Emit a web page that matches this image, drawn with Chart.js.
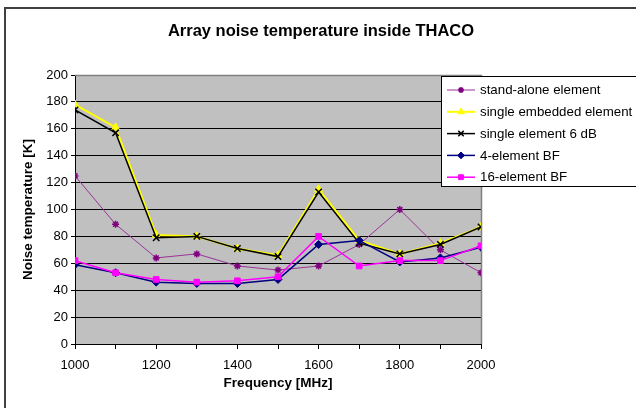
<!DOCTYPE html>
<html>
<head>
<meta charset="utf-8">
<script src="https://cdn.jsdelivr.net/npm/chart.js@4/dist/chart.umd.min.js"></script>
<style>
  html, body { margin: 0; padding: 0; background: #fff; }
  #wrap { width: 636px; height: 408px; position: relative; }
</style>
</head>
<body>
<div id="wrap"><canvas id="c"></canvas></div>
<script>
const chartTitle = 'Array noise temperature inside THACO';
const xAxisTitle = 'Frequency [MHz]';
const yAxisTitle = 'Noise temperature [K]';

const frequencies = [1000, 1100, 1200, 1300, 1400, 1500, 1600, 1700, 1800, 1900, 2000];
const seriesNames = ['stand-alone element', 'single embedded element', 'single element 6 dB', '4-element BF', '16-element BF'];
const standAlone     = [125, 89, 64, 67, 58, 55, 58, 74, 100, 70, 53];
const singleEmbedded = [178, 161, 81, 80, 71, 66, 115, 77, 67, 75, 87];
const single6dB      = [174, 157, 79, 80, 71, 65, 113, 75, 67, 74, 87];
const fourBF         = [59, 53, 46, 45, 45, 48, 74, 77, 61, 64, 72];
const sixteenBF      = [62, 53, 48, 46, 47, 50, 80, 58, 62, 62, 73];

const yTicks = { min: 0, max: 200, step: 20 };
const xTicks = { min: 1000, max: 2000, step: 100, labelEvery: 200 };

const FONT = 'Arial, "Liberation Sans", sans-serif';

function pts(vals) { return vals.map((v, i) => ({ x: frequencies[i], y: v })); }

const styles = [
  { color: '#800080', line: '#993399', width: 1, style: 'star', radius: 3.5, bw: 1.5, fill: '#800080' },
  { color: '#FFFF00', line: '#FFFF00', width: 2, style: 'triangle', radius: 4.5, bw: 1, fill: '#FFFF00' },
  { color: '#000000', line: '#000000', width: 1.5, style: 'crossRot', radius: 4.5, bw: 1.5, fill: '#000000' },
  { color: '#000080', line: '#000080', width: 1.5, style: 'rectRot', radius: 4, bw: 1, fill: '#000080' },
  { color: '#FF00FF', line: '#FF00FF', width: 1.5, style: 'rect', radius: 4, bw: 1, fill: '#FF00FF' }
];
const allSeries = [standAlone, singleEmbedded, single6dB, fourBF, sixteenBF];

const datasets = allSeries.map((vals, i) => ({
  label: seriesNames[i],
  data: pts(vals),
  borderColor: styles[i].line,
  backgroundColor: styles[i].fill,
  borderWidth: styles[i].width,
  pointStyle: styles[i].style,
  pointRadius: styles[i].radius,
  pointBorderColor: styles[i].color,
  pointBackgroundColor: styles[i].fill,
  pointBorderWidth: styles[i].bw,
  tension: 0,
  fill: false,
  order: allSeries.length - i
}));

const AREA = { left: 75, right: 481, top: 75, bottom: 344 };

const decor = {
  id: 'decor',
  beforeDraw(chart) {
    const { ctx, chartArea: a } = chart;
    ctx.save();
    ctx.fillStyle = '#C0C0C0';
    ctx.fillRect(a.left, a.top, a.right - a.left, a.bottom - a.top);
    ctx.restore();
  },
  beforeDatasetsDraw(chart) {
    const { ctx, chartArea: a } = chart;
    ctx.save();
    ctx.strokeStyle = '#808080';
    ctx.lineWidth = 1.5;
    ctx.beginPath();
    ctx.moveTo(a.left, a.top + 0.5);
    ctx.lineTo(a.right + 0.5, a.top + 0.5);
    ctx.lineTo(a.right + 0.5, a.bottom);
    ctx.stroke();
    ctx.restore();
  },
  afterDraw(chart) {
    const { ctx, chartArea: a } = chart;
    ctx.save();
    // outer chart border
    ctx.strokeStyle = '#404040';
    ctx.lineWidth = 2;
    ctx.beginPath();
    ctx.moveTo(5, 420);
    ctx.lineTo(5, 8);
    ctx.lineTo(650, 8);
    ctx.stroke();

    ctx.fillStyle = '#000';
    ctx.textAlign = 'center';
    ctx.textBaseline = 'middle';
    ctx.font = 'bold 16.5px ' + FONT;
    ctx.fillText(chartTitle, 321, 31);

    ctx.font = 'bold 13.5px ' + FONT;
    ctx.fillText(xAxisTitle, (a.left + a.right) / 2, 383);
    ctx.save();
    ctx.translate(28, (a.top + a.bottom) / 2);
    ctx.rotate(-Math.PI / 2);
    ctx.fillText(yAxisTitle, 0, 0);
    ctx.restore();

    // legend
    const lx = 441.5, ly = 76.5, lh = 110;
    ctx.fillStyle = '#fff';
    ctx.fillRect(lx, ly, 700 - lx, lh);
    ctx.strokeStyle = '#000';
    ctx.lineWidth = 1;
    ctx.strokeRect(lx, ly, 700 - lx, lh);
    ctx.font = '13.3px ' + FONT;
    ctx.textAlign = 'left';
    chart.data.datasets.forEach((ds, i) => {
      const y = 90 + i * 21.8;
      ctx.strokeStyle = ds.borderColor;
      ctx.lineWidth = ds.borderWidth;
      ctx.beginPath();
      ctx.moveTo(447, y);
      ctx.lineTo(475, y);
      ctx.stroke();
      ctx.fillStyle = ds.pointBackgroundColor;
      ctx.strokeStyle = ds.pointBorderColor;
      ctx.lineWidth = ds.pointBorderWidth;
      Chart.helpers.drawPoint(ctx, {
        pointStyle: ds.pointStyle,
        radius: ds.pointRadius * 0.85,
        rotation: 0,
        borderWidth: ds.pointBorderWidth
      }, 461, y);
      ctx.fillStyle = '#000';
      ctx.fillText(ds.label, 480, y + 0.5);
    });
    ctx.restore();
  }
};

new Chart(document.getElementById('c'), {
  type: 'line',
  data: { datasets },
  plugins: [decor],
  options: {
    responsive: true,
    maintainAspectRatio: false,
    animation: false,
    devicePixelRatio: 1,
    layout: { padding: { left: 0, top: AREA.top, right: 636 - AREA.right, bottom: 0 } },
    plugins: { legend: { display: false }, title: { display: false }, tooltip: { enabled: false } },
    scales: {
      x: {
        type: 'linear',
        min: xTicks.min,
        max: xTicks.max,
        afterFit(scale) { scale.height = 408 - AREA.bottom; },
        afterBuildTicks(scale) {
          const t = [];
          for (let v = xTicks.min; v <= xTicks.max; v += xTicks.step) t.push({ value: v });
          scale.ticks = t;
        },
        ticks: {
          autoSkip: false,
          maxRotation: 0,
          color: '#000',
          font: { family: FONT, size: 13 },
          padding: 9,
          callback: (v) => (v % xTicks.labelEvery === 0 ? String(v) : '')
        },
        grid: { drawOnChartArea: false, drawTicks: true, tickLength: 5, color: '#000', lineWidth: 1 },
        border: { color: '#000', width: 1 }
      },
      y: {
        min: yTicks.min,
        max: yTicks.max,
        afterFit(scale) { scale.width = AREA.left; },
        ticks: {
          stepSize: yTicks.step,
          color: '#000',
          font: { family: FONT, size: 13 },
          padding: 3
        },
        grid: { color: '#000', lineWidth: 1, tickLength: 4 },
        border: { color: '#000', width: 1 }
      }
    }
  }
});
</script>
</body>
</html>
